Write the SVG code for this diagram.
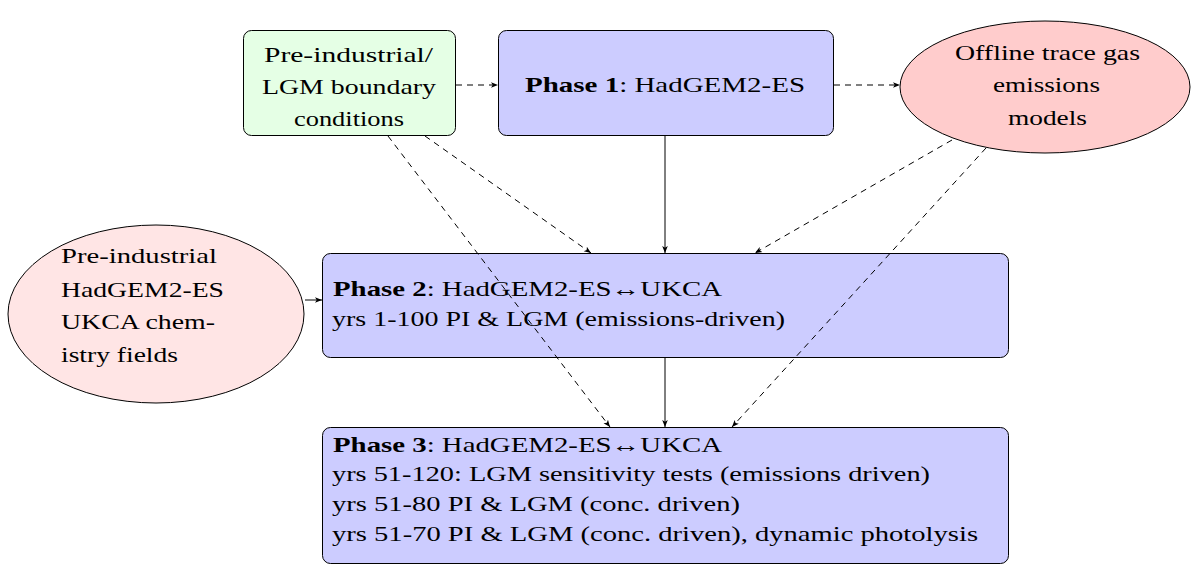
<svg xmlns="http://www.w3.org/2000/svg" width="1196" height="565" viewBox="0 0 1196 565" font-family="'Liberation Serif', 'Times New Roman', serif" font-size="22">
<defs>
<style>
.c{text-anchor:middle}
.b{font-weight:bold}
.box{stroke:#000;stroke-width:1}
.blue{fill:#ccccff}
.green{fill:#e5ffe5}
.pink{fill:#ffcccc}
.lpink{fill:#ffe5e5}
.e{fill:none;stroke:#000;stroke-width:1}
.d{stroke-dasharray:6,5}
</style>
<marker id="ah" viewBox="0 0 10 10" refX="10" refY="5" markerWidth="7" markerHeight="7" orient="auto" markerUnits="userSpaceOnUse">
<path d="M0,1 L10,5 L0,9 L2.5,5 Z" fill="#000"/>
</marker>
</defs>
<g id="n-bc">
<rect class="box green" x="243.5" y="30.5" width="212" height="105" rx="8"/>
<text x="264" y="62" textLength="169" lengthAdjust="spacingAndGlyphs">Pre-industrial/</text>
<text x="262" y="94" textLength="174" lengthAdjust="spacingAndGlyphs">LGM boundary</text>
<text x="294" y="126" textLength="110" lengthAdjust="spacingAndGlyphs">conditions</text>
</g>
<g id="n-p1">
<rect class="box blue" x="498.5" y="30.5" width="335" height="105" rx="8"/>
<text x="525" y="92" textLength="280" lengthAdjust="spacingAndGlyphs"><tspan class="b">Phase 1</tspan>: HadGEM2-ES</text>
</g>
<g id="n-em">
<ellipse class="box pink" cx="1045" cy="87" rx="145" ry="66"/>
<text x="955" y="60" textLength="185" lengthAdjust="spacingAndGlyphs">Offline trace gas</text>
<text x="993" y="92" textLength="107" lengthAdjust="spacingAndGlyphs">emissions</text>
<text x="1008" y="125" textLength="79" lengthAdjust="spacingAndGlyphs">models</text>
</g>
<g id="n-chem">
<ellipse class="box lpink" cx="156" cy="314" rx="148" ry="89"/>
<text x="61" y="263" textLength="156" lengthAdjust="spacingAndGlyphs">Pre-industrial</text>
<text x="61" y="297" textLength="163" lengthAdjust="spacingAndGlyphs">HadGEM2-ES</text>
<text x="61" y="329" textLength="154" lengthAdjust="spacingAndGlyphs">UKCA chem-</text>
<text x="61" y="362" textLength="117" lengthAdjust="spacingAndGlyphs">istry fields</text>
</g>
<g id="n-p2">
<rect class="box blue" x="322.5" y="253.5" width="686" height="104" rx="8"/>
<text x="333" y="296" textLength="389" lengthAdjust="spacingAndGlyphs"><tspan class="b">Phase 2</tspan>: HadGEM2-ES↔UKCA</text>
<text x="332" y="326" textLength="453" lengthAdjust="spacingAndGlyphs">yrs 1-100 PI &amp; LGM (emissions-driven)</text>
</g>
<g id="n-p3">
<rect class="box blue" x="322.5" y="427.5" width="686" height="136" rx="8"/>
<text x="333" y="452" textLength="389" lengthAdjust="spacingAndGlyphs"><tspan class="b">Phase 3</tspan>: HadGEM2-ES↔UKCA</text>
<text x="332" y="481" textLength="598" lengthAdjust="spacingAndGlyphs">yrs 51-120: LGM sensitivity tests (emissions driven)</text>
<text x="332" y="511" textLength="408" lengthAdjust="spacingAndGlyphs">yrs 51-80 PI &amp; LGM (conc. driven)</text>
<text x="332" y="541" textLength="646" lengthAdjust="spacingAndGlyphs">yrs 51-70 PI &amp; LGM (conc. driven), dynamic photolysis</text>
</g>
<g id="connectors">
<line class="e d" x1="456" y1="85" x2="498" y2="85" marker-end="url(#ah)"/>
<line class="e d" x1="834" y1="85" x2="900" y2="85" marker-end="url(#ah)"/>
<line class="e" x1="665" y1="136" x2="665" y2="253" marker-end="url(#ah)"/>
<line class="e" x1="665" y1="358" x2="665" y2="427" marker-end="url(#ah)"/>
<line class="e" x1="305" y1="300" x2="322" y2="300" marker-end="url(#ah)"/>
<line class="e d" x1="425" y1="136" x2="591" y2="253" marker-end="url(#ah)"/>
<line class="e d" x1="388" y1="136" x2="610" y2="427" marker-end="url(#ah)"/>
<line class="e d" x1="952" y1="140" x2="755" y2="253" marker-end="url(#ah)"/>
<line class="e d" x1="986" y1="148" x2="732" y2="427" marker-end="url(#ah)"/>
</g>
</svg>
